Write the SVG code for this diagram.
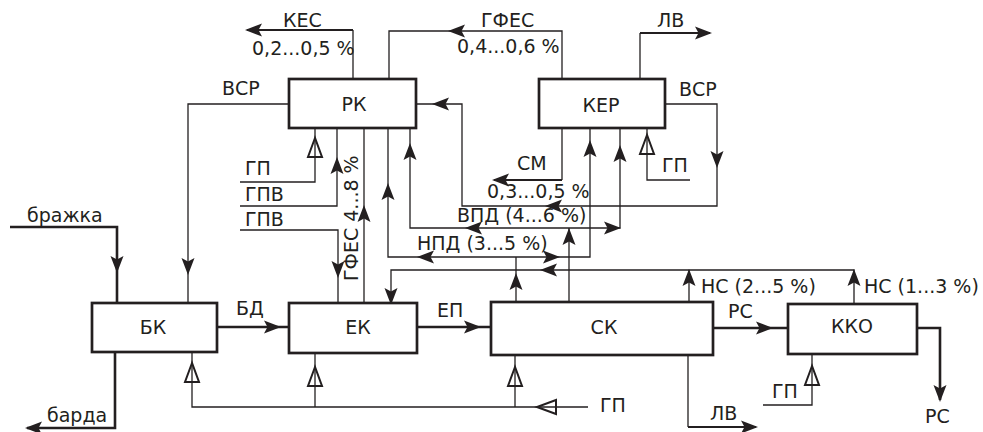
<svg xmlns="http://www.w3.org/2000/svg" xmlns:xlink="http://www.w3.org/1999/xlink" width="983" height="432" viewBox="0 0 983 432">
<style>
text{font-family:"DejaVu Sans","Liberation Sans",sans-serif;font-size:19px;fill:#231f20}
.c{text-anchor:middle}
.box{fill:#fff;stroke:#231f20;stroke-width:2.7}
.t{fill:none;stroke:#231f20;stroke-width:1.3}
.k{fill:none;stroke:#231f20;stroke-width:2.6}
.m{fill:none;stroke:#231f20;stroke-width:2}
</style>
<defs>
<path id="ah" d="M0,0 L-17,-6.5 L-13.5,0 L-17,6.5 Z" fill="#231f20"/>
<path id="ha" d="M0,0 L-19,-7 L-19,7 Z" fill="none" stroke="#231f20" stroke-width="2" stroke-linejoin="miter"/>
</defs>
<rect width="983" height="432" fill="#fff"/>

<g id="connectors">
<!-- thin lines -->
<path class="t" d="M353,79 V30"/>
<path class="m" d="M353,30 H247"/>
<path class="t" d="M389,79 V31 H562 V79"/>
<path class="t" d="M640,79 V33"/>
<path class="m" d="M640,33 H710"/>
<path class="t" d="M289,104 H188 V303"/>
<path class="t" d="M665,104 H717 V206 H462 V104 H416"/>
<path class="t" d="M562,128 V180"/>
<path class="m" d="M562,180 H494"/>
<path class="t" d="M410,128 V228 H620 V128"/>
<path class="t" d="M569,302 V228"/>
<path class="t" d="M388,128 V257 H590 V128"/>
<path class="t" d="M516,302 V257"/>
<path class="t" d="M391,303 V270 H854 V304"/>
<path class="t" d="M689,302 V270"/>
<path class="t" d="M364,303 V128"/>
<path class="t" d="M240,182 H315 V128"/>
<path class="t" d="M240,206 H337 V128"/>
<path class="t" d="M240,230 H338 V303"/>
<path class="t" d="M690,180 H647 V128"/>
<path class="t" d="M588,407 H192 V352"/>
<path class="t" d="M315,407 V353"/>
<path class="t" d="M515,407 V355"/>
<path class="t" d="M763,405 H812 V354"/>
<!-- thick lines -->
<path class="k" d="M10,227 H117 V303"/>
<path class="k" d="M217,327 H289"/>
<path class="k" d="M115,352 V428 H27"/>
<path class="k" d="M417,327 H491"/>
<path class="k" d="M713,328 H788"/>
<path class="k" d="M917,328 H940 V400"/>
<path class="t" d="M688,355 V427"/>
<path class="m" d="M688,427 H756"/>

<!-- filled arrowheads -->
<use xlink:href="#ah" transform="translate(245,30) rotate(180)"/>
<use xlink:href="#ah" transform="translate(448,31) rotate(180)"/>
<use xlink:href="#ah" transform="translate(712,33)"/>
<use xlink:href="#ah" transform="translate(188,275) rotate(90)"/>
<use xlink:href="#ah" transform="translate(117,273) rotate(90)"/>
<use xlink:href="#ah" transform="translate(281,327)"/>
<use xlink:href="#ah" transform="translate(25,428) rotate(180)"/>
<use xlink:href="#ah" transform="translate(481,327)"/>
<use xlink:href="#ah" transform="translate(773,328)"/>
<use xlink:href="#ah" transform="translate(940,402) rotate(90)"/>
<use xlink:href="#ah" transform="translate(758,427)"/>
<use xlink:href="#ah" transform="translate(717,168) rotate(90)"/>
<use xlink:href="#ah" transform="translate(545,206) rotate(180)"/>
<use xlink:href="#ah" transform="translate(432,104) rotate(180)"/>
<use xlink:href="#ah" transform="translate(492,180) rotate(180)"/>
<use xlink:href="#ah" transform="translate(465,228) rotate(180)"/>
<use xlink:href="#ah" transform="translate(621,228)"/>
<use xlink:href="#ah" transform="translate(569,228) rotate(-90)"/>
<use xlink:href="#ah" transform="translate(410,143) rotate(-90)"/>
<use xlink:href="#ah" transform="translate(620,145) rotate(-90)"/>
<use xlink:href="#ah" transform="translate(516,273) rotate(-90)"/>
<use xlink:href="#ah" transform="translate(417,257) rotate(180)"/>
<use xlink:href="#ah" transform="translate(560,257)"/>
<use xlink:href="#ah" transform="translate(388,183) rotate(-90)"/>
<use xlink:href="#ah" transform="translate(590,140) rotate(-90)"/>
<use xlink:href="#ah" transform="translate(540,270) rotate(180)"/>
<use xlink:href="#ah" transform="translate(391,305) rotate(90)"/>
<use xlink:href="#ah" transform="translate(689,269) rotate(-90)"/>
<use xlink:href="#ah" transform="translate(854,269) rotate(-90)"/>
<use xlink:href="#ah" transform="translate(337,157) rotate(-90)"/>
<use xlink:href="#ah" transform="translate(338,278) rotate(90)"/>
<use xlink:href="#ah" transform="translate(364,205) rotate(-90)"/>

<!-- hollow arrowheads -->
<use xlink:href="#ha" transform="translate(537,407) rotate(180)"/>
<use xlink:href="#ha" transform="translate(192,363) rotate(-90)"/>
<use xlink:href="#ha" transform="translate(315,367) rotate(-90)"/>
<use xlink:href="#ha" transform="translate(515,367) rotate(-90)"/>
<use xlink:href="#ha" transform="translate(812,366) rotate(-90)"/>
<use xlink:href="#ha" transform="translate(315,138) rotate(-90)"/>
<use xlink:href="#ha" transform="translate(647,135) rotate(-90)"/>

<!-- flow labels -->
<text x="283" y="27">КЕС</text>
<text x="252" y="55">0,2...0,5 %</text>
<text x="481" y="27">ГФЕС</text>
<text x="457" y="53">0,4...0,6 %</text>
<text x="657" y="27">ЛВ</text>
<text x="222" y="95">ВСР</text>
<text x="679" y="96">ВСР</text>
<text x="662" y="172">ГП</text>
<text x="517" y="170">СМ</text>
<text x="487" y="198">0,3...0,5 %</text>
<text x="457" y="222">ВПД (4...6 %)</text>
<text x="417" y="250">НПД (3...5 %)</text>
<text x="245" y="175">ГП</text>
<text x="245" y="201">ГПВ</text>
<text x="245" y="226">ГПВ</text>
<text transform="translate(358,281) rotate(-90)">ГФЕС 4...8 %</text>
<text x="27" y="222">бражка</text>
<text x="236" y="315">БД</text>
<text x="437" y="317">ЕП</text>
<text x="728" y="318">РС</text>
<text x="701" y="293">НС (2...5 %)</text>
<text x="864" y="293">НС (1...3 %)</text>
<text x="772" y="398">ГП</text>
<text x="710" y="420">ЛВ</text>
<text x="925" y="423">РС</text>
<text x="47" y="422">барда</text>
<text x="600" y="412">ГП</text>
</g>

<g id="RK"><rect class="box" x="289" y="79" width="127" height="49"/><text class="c" x="354" y="111">РК</text></g>
<g id="KER"><rect class="box" x="539" y="79" width="126" height="49"/><text class="c" x="601" y="112">КЕР</text></g>
<g id="BK"><rect class="box" x="92" y="303" width="125" height="49"/><text class="c" x="153" y="334">БК</text></g>
<g id="EK"><rect class="box" x="289" y="303" width="128" height="50"/><text class="c" x="358" y="334">ЕК</text></g>
<g id="SK"><rect class="box" x="491" y="302" width="222" height="53"/><text class="c" x="604" y="334">СК</text></g>
<g id="KKO"><rect class="box" x="788" y="304" width="129" height="50"/><text class="c" x="852" y="333">ККО</text></g>
</svg>
